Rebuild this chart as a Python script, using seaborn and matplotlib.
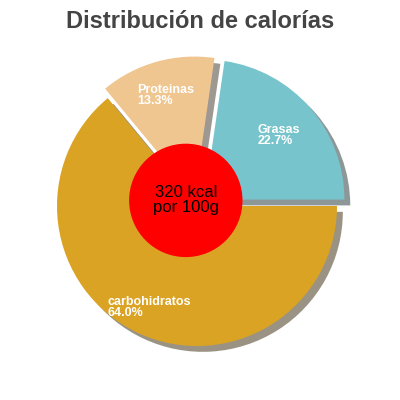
import numpy as np
import matplotlib
matplotlib.use('Agg')
import matplotlib.pyplot as plt
import seaborn as sns
from matplotlib.patches import Circle

labels = ['Grasas', 'Proteinas', 'carbohidratos']
values = [22.7, 13.3, 64.0]
colors = ['#77c4cc', '#f0c690', '#dba324']
explode = [0.07, 0.07, 0.0]
label_r = [0.7, 0.75, 0.8]

sns.set_theme(style='white')
plt.rcParams['font.family'] = ['Liberation Sans', 'DejaVu Sans']

fig = plt.figure(figsize=(4, 4), dpi=100)
ax = fig.add_axes([1 / 400, (194 - 196) / 400, 0.98, 0.98])
wedges, _ = ax.pie(values, colors=colors, explode=explode, startangle=0,
                   counterclock=True, shadow={'ox': 0.03, 'oy': -0.03, 'shade': 0.75},
                   wedgeprops={'linewidth': 0})
ax.set_xlim(-1.4, 1.4)
ax.set_ylim(-1.4, 1.4)
ax.set_aspect('equal')
ax.axis('off')

start = 0.0
for lab, v, ex, r in zip(labels, values, explode, label_r):
    mid = np.deg2rad(start + v * 3.6 / 2)
    rr = r + ex
    ax.text(rr * np.cos(mid), rr * np.sin(mid), f"{lab}\n{v:.1f}%",
            color='white', fontsize=9, fontweight='bold',
            ha='center', va='center', multialignment='left', linespacing=0.95)
    start += v * 3.6

ax.add_patch(Circle((-0.08, 0.04), 0.4, color='#ff0000', zorder=5))
ax.text(-0.08, 0.04, "320 kcal\npor 100g", fontsize=12, ha='center', va='center',
        color='black', zorder=6, linespacing=1.0)

fig.text(0.5, 0.945, "Distribución de calorías", ha='center', va='center',
         fontsize=17, fontweight='bold', color='#444444')

fig.savefig('out.png', dpi=100)
